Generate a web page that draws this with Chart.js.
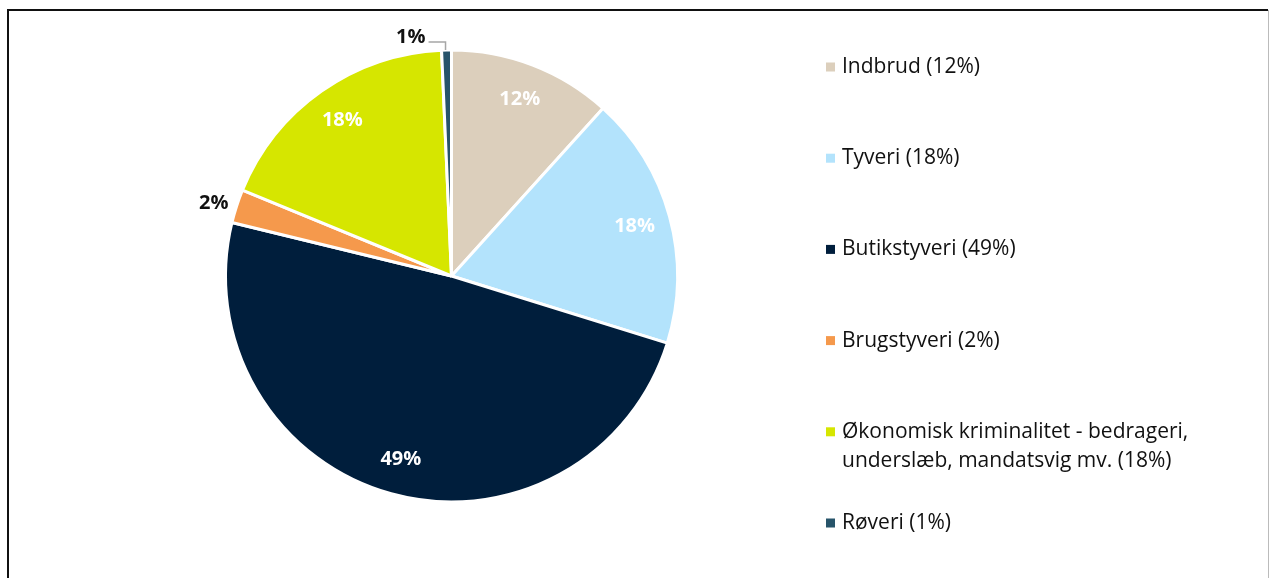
<!DOCTYPE html>
<html>
<head>
<meta charset="utf-8">
<script src="https://cdn.jsdelivr.net/npm/chart.js@4.4.0/dist/chart.umd.min.js"></script>
<style>
  html, body { margin: 0; padding: 0; background: #fff; }
  #wrap { width: 1269px; height: 578px; position: relative; }
</style>
</head>
<body>
<div id="wrap"><canvas id="pieChart"></canvas></div>
<script>
const categories = [
    'Indbrud',
    'Tyveri',
    'Butikstyveri',
    'Brugstyveri',
    'Økonomisk kriminalitet - bedrageri, underslæb, mandatsvig mv.',
    'Røveri'
];
const shares = [11.7, 18.1, 49.0, 2.4, 18.1, 0.7];
const sliceColors = ['#DCCFBC', '#B3E3FC', '#001E3C', '#F5994C', '#D6E600', '#27546A'];

const FONT = '"Open Sans", Lato, sans-serif';

// frame round the chart
const framePlugin = {
    id: 'frame',
    beforeDraw(chart) {
        const ctx = chart.ctx;
        ctx.save();
        ctx.strokeStyle = '#111';
        ctx.lineWidth = 2;
        ctx.beginPath();
        ctx.moveTo(8, 578);
        ctx.lineTo(8, 10);
        ctx.lineTo(1268, 10);
        ctx.stroke();
        ctx.strokeStyle = '#bbb';
        ctx.lineWidth = 1;
        ctx.beginPath();
        ctx.moveTo(1268.5, 10);
        ctx.lineTo(1268.5, 578);
        ctx.stroke();
        ctx.restore();
    }
};

// percent labels on / beside the slices
const sliceLabels = {
    id: 'sliceLabels',
    afterDatasetsDraw(chart) {
        const ctx = chart.ctx;
        const meta = chart.getDatasetMeta(0);
        const values = chart.data.datasets[0].data;
        ctx.save();
        ctx.font = 'bold 20px ' + FONT;
        ctx.textAlign = 'center';
        ctx.textBaseline = 'middle';
        meta.data.forEach((arc, i) => {
            const p = arc.getProps(['x', 'y', 'startAngle', 'endAngle', 'outerRadius'], true);
            const mid = (p.startAngle + p.endAngle) / 2;
            const text = Math.round(values[i]) + '%';
            if (values[i] >= 5) {
                const r = p.outerRadius * 0.84;
                ctx.fillStyle = '#fff';
                ctx.fillText(text, p.x + Math.cos(mid) * r, p.y + Math.sin(mid) * r);
            } else if (values[i] >= 2) {
                const r = p.outerRadius + 24;
                ctx.fillStyle = '#111';
                ctx.fillText(text, p.x + Math.cos(mid) * r, p.y + Math.sin(mid) * r + 5);
            } else {
                // leader line for the tiny slice
                const ex = p.x + Math.cos(mid) * p.outerRadius;
                const ey = p.y + Math.sin(mid) * p.outerRadius;
                ctx.strokeStyle = '#a6a6a6';
                ctx.lineWidth = 1.5;
                ctx.beginPath();
                ctx.moveTo(ex - 1, ey);
                ctx.lineTo(ex - 1, ey - 8);
                ctx.lineTo(ex - 18, ey - 8);
                ctx.stroke();
                ctx.fillStyle = '#111';
                ctx.textAlign = 'right';
                ctx.fillText(text, ex - 21, ey - 13);
                ctx.textAlign = 'center';
            }
        });
        ctx.restore();
    }
};

// legend on the right, long labels wrap
const sideLegend = {
    id: 'sideLegend',
    afterDraw(chart) {
        const ctx = chart.ctx;
        const values = chart.data.datasets[0].data;
        const colors = chart.data.datasets[0].backgroundColor;
        const x0 = 826, y0 = 67, step = 91.2, maxW = 390, lineH = 29;
        ctx.save();
        ctx.font = '21px ' + FONT;
        ctx.textBaseline = 'middle';
        ctx.textAlign = 'left';
        chart.data.labels.forEach((label, i) => {
            const y = y0 + i * step;
            ctx.fillStyle = colors[i];
            ctx.fillRect(x0, y - 4.5, 9, 9);
            const words = (label + ' (' + Math.round(values[i]) + '%)').split(' ');
            const lines = [];
            let line = '';
            words.forEach(w => {
                const test = line ? line + ' ' + w : w;
                if (line && ctx.measureText(test).width > maxW) {
                    lines.push(line);
                    line = w;
                } else {
                    line = test;
                }
            });
            lines.push(line);
            ctx.fillStyle = '#111';
            lines.forEach((t, j) => ctx.fillText(t, x0 + 16, y + j * lineH));
        });
        ctx.restore();
    }
};

const data = {
    labels: categories,
    datasets: [{
        data: shares,
        backgroundColor: sliceColors,
        borderColor: '#fff',
        borderWidth: 3
    }]
};

const config = {
    type: 'pie',
    data: data,
    options: {
        responsive: true,
        maintainAspectRatio: false,
        animation: false,
        layout: {
            padding: { left: 224, right: 590, top: 48, bottom: 74 }
        },
        plugins: {
            legend: { display: false },
            tooltip: { enabled: false }
        }
    },
    plugins: [framePlugin, sliceLabels, sideLegend]
};

const pieChart = new Chart(document.querySelector('#pieChart'), config);
</script>
</body>
</html>
